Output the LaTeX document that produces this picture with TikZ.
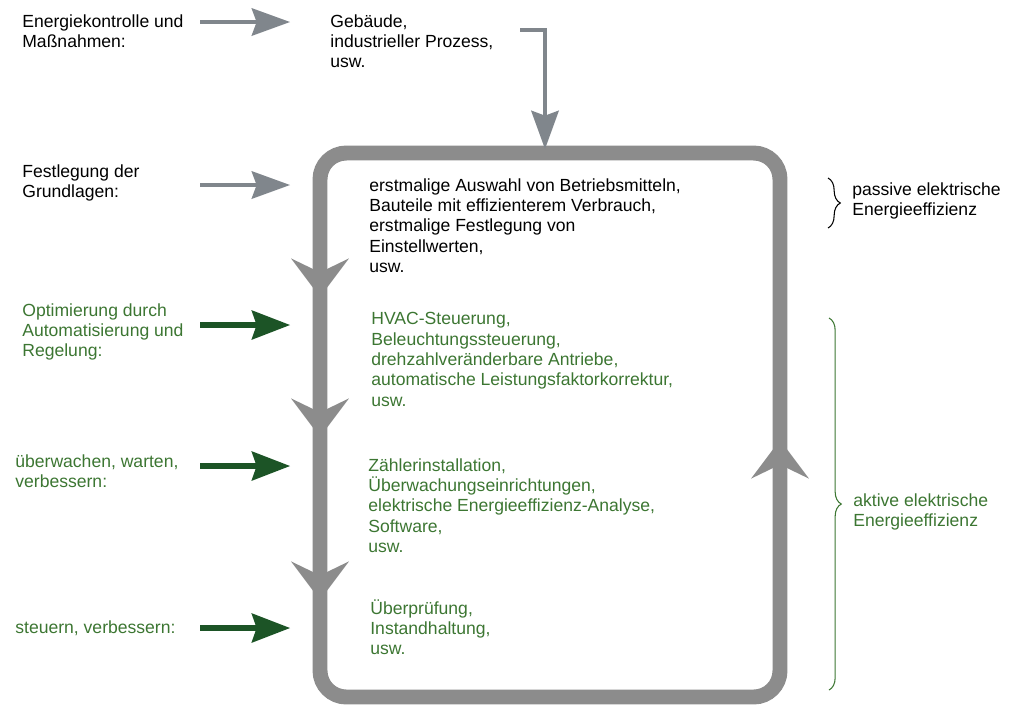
\documentclass[tikz,border=0pt]{standalone}
\usepackage{fontspec}
\setmainfont{Liberation Sans}
\usepackage{tikz}
\usetikzlibrary{arrows.meta}
\usetikzlibrary{decorations.pathreplacing}
\definecolor{loopgray}{RGB}{140, 140, 140}
\definecolor{arrowgray}{RGB}{128, 134, 140}
\definecolor{leafgreen}{RGB}{60, 118, 50}
\definecolor{darkgreen}{RGB}{28, 84, 38}

\begin{document}
\begin{tikzpicture}[x=0.02cm, y=-0.02cm,
    every node/.style={inner sep=0pt, anchor=north west, align=left,
                       font=\fontsize{10}{11.6}\selectfont},
    greentext/.style={text=leafgreen},
    looppath/.style={loopgray, line width=8.5pt, rounded corners=15pt},
    loophead/.style={loopgray, line width=8.5pt,
                     -{Stealth[length=22pt, width=33pt, inset=8pt, line width=0pt]}},
    grayarrow/.style={arrowgray, line width=2.8pt,
                      -{Stealth[length=22pt, width=16pt, inset=3pt, line width=0pt]}},
    greenarrow/.style={darkgreen, line width=3pt,
                       -{Stealth[length=22pt, width=17pt, inset=3pt, line width=0pt]}},
    bracepath/.style={decorate, decoration={brace, amplitude=7pt}, line width=0.6pt}]
            \useasboundingbox (0,0) rectangle (1010,725);
            % loop
            \draw[looppath] (320,153) rectangle (780,697);
            \draw[loophead] (320,250) -- (320,297);
            \draw[loophead] (320,390) -- (320,437);
            \draw[loophead] (320,553) -- (320,600);
            \draw[loophead] (780,480) -- (780,440);
            % left labels
            \node (energy)  at (22,14)  {Energiekontrolle und\\Maßnahmen:};
            \node (basis)   at (22,164) {Festlegung der\\Grundlagen:};
            \node[greentext] (optim)   at (22,303) {Optimierung durch\\Automatisierung und\\Regelung:};
            \node[greentext] (monitor) at (15,454) {überwachen, warten,\\verbessern:};
            \node[greentext] (steer)   at (15,620) {steuern, verbessern:};
            % texts in the loop
            \node (process) at (330,14) {Gebäude,\\industrieller Prozess,\\usw.};
            \node (passivelist) at (369,178) {erstmalige Auswahl von Betriebsmitteln,\\Bauteile mit effizienterem Verbrauch,\\erstmalige Festlegung von\\Einstellwerten,\\usw.};
            \node[greentext] (controllist) at (371,312) {HVAC-Steuerung,\\Beleuchtungssteuerung,\\drehzahlveränderbare Antriebe,\\automatische Leistungsfaktorkorrektur,\\usw.};
            \node[greentext] (monitorlist) at (368,458) {Zählerinstallation,\\Überwachungseinrichtungen,\\elektrische Energieeffizienz-Analyse,\\Software,\\usw.};
            \node[greentext] (steerlist) at (370,599) {Überprüfung,\\Instandhaltung,\\usw.};
            % arrows into the loop
            \coordinate (energy-out) at (200,22);
            \coordinate (energy-in)  at (290,22);
            \coordinate (basis-out)  at (200,185);
            \coordinate (basis-in)   at (290,185);
            \coordinate (optim-out)  at (200,325);
            \coordinate (optim-in)   at (290,325);
            \coordinate (monitor-out) at (200,466);
            \coordinate (monitor-in)  at (290,466);
            \coordinate (steer-out)  at (200,628);
            \coordinate (steer-in)   at (290,628);
            \coordinate (process-out) at (520,30);
            \coordinate (loop-top)    at (545,149);
            \draw[grayarrow]  (energy-out) -- (energy-in);
            \draw[grayarrow]  (basis-out) -- (basis-in);
            \draw[greenarrow] (optim-out) -- (optim-in);
            \draw[greenarrow] (monitor-out) -- (monitor-in);
            \draw[greenarrow] (steer-out) -- (steer-in);
            \draw[grayarrow]  (process-out) -| (loop-top);
            % braces
            \draw[bracepath] (828,178) -- (828,228);
            \node (passive) at (852,182) {passive elektrische\\Energieeffizienz};
            \draw[bracepath, leafgreen] (829,318) -- (829,690);
            \node[greentext] (active) at (853,493) {aktive elektrische\\Energieeffizienz};
\end{tikzpicture}
\end{document}
